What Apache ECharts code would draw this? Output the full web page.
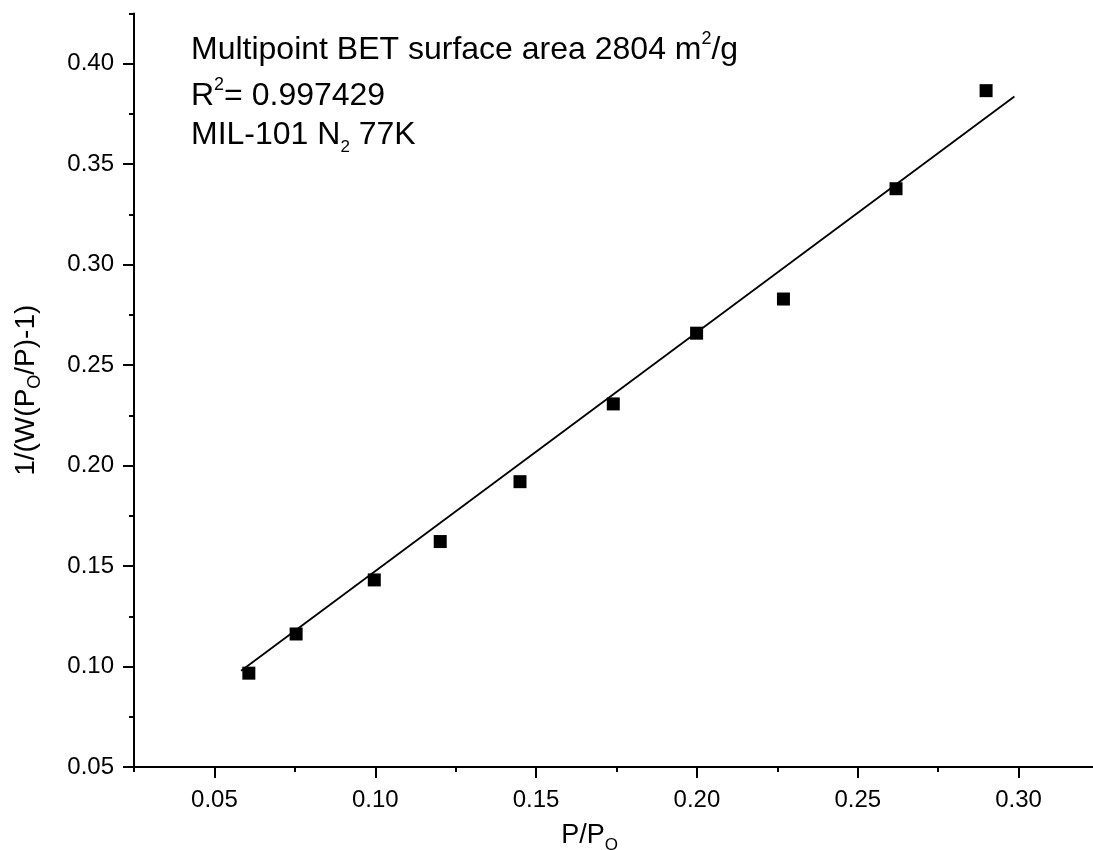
<!DOCTYPE html>
<html>
<head>
<meta charset="utf-8">
<script src="https://cdn.jsdelivr.net/npm/echarts@6/dist/echarts.min.js"></script>
<style>
  html, body { margin: 0; padding: 0; background: #fff; }
  #chart { width: 1093px; height: 850px; }
</style>
</head>
<body>
<div id="chart"></div>
<script>
// 数据
let pressure = [0.0607, 0.0754, 0.0997, 0.1202, 0.145, 0.174, 0.1999, 0.2269, 0.2619, 0.2899];
let betValue = [0.0967, 0.1162, 0.1431, 0.1622, 0.192, 0.2307, 0.2659, 0.2829, 0.3378, 0.3866];
let fitX = [0.0583, 0.2987];
let fitY = [0.0979, 0.3837];
let xMajor = [0.05, 0.10, 0.15, 0.20, 0.25, 0.30];
let xMinor = [0.025, 0.075, 0.125, 0.175, 0.225, 0.275];
let yMajor = [0.05, 0.10, 0.15, 0.20, 0.25, 0.30, 0.35, 0.40];
let yMinor = [0.075, 0.125, 0.175, 0.225, 0.275, 0.325, 0.375, 0.425];

let font = "Liberation Sans";
let chart = echarts.init(document.getElementById("chart"));

let richText = {
  a: { fontFamily: font, fontSize: 32, fontWeight: "normal", color: "#000", lineHeight: 40, verticalAlign: "middle" },
  p: { fontFamily: font, fontSize: 18, fontWeight: "normal", color: "#000", verticalAlign: "top" },
  s: { fontFamily: font, fontSize: 17, fontWeight: "normal", color: "#000", verticalAlign: "bottom", padding: [24, 0, 0, 0] }
};

function noteTitle(text, top) {
  return {
    text: text,
    left: 186,
    top: top,
    textStyle: { fontWeight: "normal", rich: richText }
  };
}

let scatterData = pressure.map((x, i) => [x, betValue[i]]);
let fitData = fitX.map((x, i) => [x, fitY[i]]);

let axisLabelStyle = {
  fontFamily: font,
  fontSize: 24,
  color: "#000",
  formatter: v => v.toFixed(2)
};

let option = {
  animation: false,
  backgroundColor: "#fff",
  title: [
    noteTitle("{a|Multipoint BET surface area 2804 m}{p|2}{a|/g}", 25),
    noteTitle("{a|R}{p|2}{a|= 0.997429}", 71),
    noteTitle("{a|MIL-101 N}{s|2}{a| 77K}", 110)
  ],
  grid: {
    left: 134,
    top: 13.5,
    height: 753.5,
    width: 965,
    outerBoundsMode: "none",
    containLabel: false
  },
  xAxis: [{
      type: "value",
      min: 0.025,
      max: 0.325,
      name: "{a|P/P}{s|O}",
      nameLocation: "middle",
      nameGap: 50,
      nameTextStyle: {
        padding: [0, 54, 0, 0],
        rich: {
          a: { fontFamily: font, fontSize: 27, color: "#000", lineHeight: 34 },
          s: { fontFamily: font, fontSize: 17, color: "#000", verticalAlign: "bottom", padding: [20, 0, 0, 0] }
        }
      },
      axisLine: { lineStyle: { color: "#000", width: 2 } },
      axisTick: { customValues: xMajor, length: 11, lineStyle: { color: "#000", width: 2 } },
      axisLabel: Object.assign({ customValues: xMajor, margin: 21 }, axisLabelStyle),
      splitLine: { show: false }
    },
    {
      type: "value",
      min: 0.025,
      max: 0.325,
      position: "bottom",
      axisLine: { show: false },
      axisTick: { customValues: xMinor, length: 5, lineStyle: { color: "#000", width: 2 } },
      axisLabel: { show: false },
      splitLine: { show: false }
    }
  ],
  yAxis: [{
      type: "value",
      min: 0.05,
      max: 0.425,
      name: "{a|1/(W(P}{s|O}{a|/P)-1)}",
      nameLocation: "middle",
      nameRotate: 90,
      nameGap: 90,
      nameTextStyle: {
        rich: {
          a: { fontFamily: font, fontSize: 28, color: "#000", lineHeight: 36 },
          s: { fontFamily: font, fontSize: 18, color: "#000", verticalAlign: "bottom", padding: [16, 0, 0, 0] }
        }
      },
      axisLine: { lineStyle: { color: "#000", width: 2 } },
      axisTick: { customValues: yMajor, length: 11, lineStyle: { color: "#000", width: 2 } },
      axisLabel: Object.assign({ customValues: yMajor, margin: 20 }, axisLabelStyle),
      splitLine: { show: false }
    },
    {
      type: "value",
      min: 0.05,
      max: 0.425,
      position: "left",
      axisLine: { show: false },
      axisTick: { customValues: yMinor, length: 5, lineStyle: { color: "#000", width: 2 } },
      axisLabel: { show: false },
      splitLine: { show: false }
    }
  ],
  series: [{
      name: "fit",
      type: "line",
      data: fitData,
      symbol: "none",
      lineStyle: { color: "#000", width: 1.8 },
      z: 2
    },
    {
      name: "BET",
      type: "scatter",
      data: scatterData,
      symbol: "rect",
      symbolSize: 13,
      itemStyle: { color: "#000", opacity: 1 },
      z: 3
    }
  ]
};

chart.setOption(option, true);
</script>
</body>
</html>
